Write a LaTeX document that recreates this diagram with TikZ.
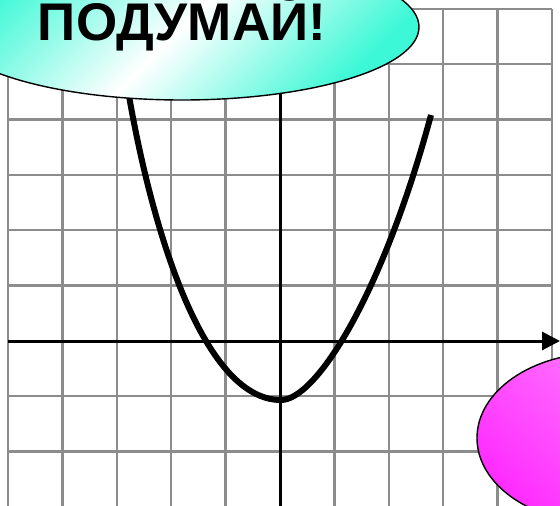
\documentclass[tikz,border=0pt]{standalone}
\usepackage{fontspec}
\setmainfont{Liberation Sans}
\usetikzlibrary{arrows.meta,shapes.geometric}
\definecolor{aqua}{HTML}{3CF8D6}
\definecolor{pinkdk}{HTML}{FF2CFF}
\definecolor{pinklt}{HTML}{FF8CFF}
\tikzset{
  gridln/.style={draw=black!45, line width=2.3pt},
  axisln/.style={line width=3pt},
  arr/.style={-{Triangle[length=18pt,width=18pt]}},
  curve/.style={line width=6pt},
  bubble/.style={ellipse, draw, line width=1.4pt, minimum width=474pt,
                 minimum height=146pt, inner sep=0pt,
                 left color=aqua, right color=aqua, middle color=white,
                 shading angle=45, text height=38pt, text depth=12pt,
                 font=\fontsize{53}{53}\selectfont\bfseries},
  blob/.style={ellipse, draw, line width=1.4pt, minimum width=246pt,
               minimum height=170pt, left color=pinklt, right color=pinkdk,
               shading angle=-45}
}
\begin{document}
\begin{tikzpicture}[x=1pt,y=-1pt]
  \useasboundingbox (0,0) rectangle (560,506);
  \clip (0,0) rectangle (560,506);
  % grid
  \foreach \i in {0,...,10}
    \draw[gridln] ({8+54.4*\i},9) -- ({8+54.4*\i},520);
  \foreach \j in {0,...,9}
    \draw[gridln] (8,{9+55.3*\j}) -- (552,{9+55.3*\j});
  % axes
  \coordinate (xbeg) at (8,341);
  \coordinate (xend) at (560,341);
  \coordinate (ybeg) at (280.5,520);
  \coordinate (yend) at (280.5,50);
  \draw[axisln] (ybeg) -- (yend);
  \draw[axisln, arr] (xbeg) -- (xend);
  % parabola
  \coordinate (ltop) at (128,90);
  \coordinate (vtx) at (281,400);
  \coordinate (rtop) at (431,115);
  \draw[curve] (ltop) .. controls (150,220) and (201,400) .. (vtx)
    .. controls (316,400) and (382.4,295) .. (rtop);
  % bubbles
  \node[bubble] (think) at (182,27) {ПОДУМАЙ!};
  \node[blob] (hint) at (600,438) {};
\end{tikzpicture}
\end{document}
